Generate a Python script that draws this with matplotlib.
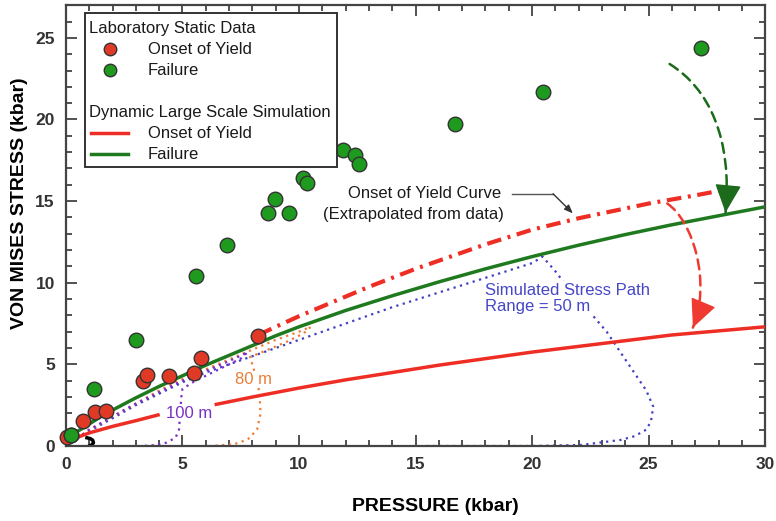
import numpy as np
import matplotlib.pyplot as plt
from matplotlib.patches import Rectangle, FancyArrowPatch
from matplotlib.path import Path
from matplotlib.lines import Line2D

plt.rcParams['font.family'] = ['Liberation Sans', 'DejaVu Sans']

# laboratory static data (kbar)
yield_p = [0.05, 0.2, 0.75, 1.23, 1.72, 3.32, 3.47, 4.43, 5.48, 5.8, 8.25]
yield_s = [0.55, 0.65, 1.5, 2.1, 2.15, 3.95, 4.35, 4.3, 4.47, 5.4, 6.75]
fail_p = [0.2, 1.2, 3.0, 5.57, 6.9, 8.67, 8.97, 9.57, 10.17, 10.35, 11.9, 12.4, 12.57, 16.7, 20.47, 27.24]
fail_s = [0.65, 3.5, 6.5, 10.4, 12.3, 14.25, 15.1, 14.25, 16.4, 16.1, 18.15, 17.8, 17.25, 19.7, 21.7, 24.35]

# dynamic large scale simulation
sim_fail_p = [0.2, 0.5, 1, 1.5, 2, 3, 4, 5, 6, 7, 8, 9, 10, 12, 14, 16, 18, 20, 22, 24, 26, 28, 30]
sim_fail_s = [0.6, 0.9, 1.35, 1.8, 2.2, 2.95, 3.65, 4.3, 4.95, 5.55, 6.15, 6.75, 7.3, 8.3, 9.2, 10.05,
              10.85, 11.6, 12.3, 12.95, 13.55, 14.1, 14.65]
sim_yield_p1 = [0.15, 1, 2, 3, 3.95]
sim_yield_s1 = [0.35, 0.8, 1.2, 1.55, 1.9]
sim_yield_p2 = [6.45, 8, 10, 12, 14, 16, 18, 20, 22, 24, 26, 28, 30]
sim_yield_s2 = [2.55, 3.0, 3.55, 4.05, 4.5, 4.95, 5.35, 5.75, 6.1, 6.45, 6.8, 7.05, 7.3]

# onset of yield curve extrapolated from data
extrap_p = [8.25, 9, 10, 11, 12, 13, 14, 15, 16, 17, 18, 19, 20, 21, 22, 23, 24, 25, 26, 27, 28.1]
extrap_s = [6.8, 7.3, 7.95, 8.55, 9.15, 9.75, 10.3, 10.85, 11.35, 11.85, 12.35, 12.8, 13.25, 13.6, 13.95,
            14.25, 14.55, 14.85, 15.1, 15.35, 15.65]

# simulated stress paths
path100_p = [0, 0.5, 1, 2, 3, 4, 5, 6, 7, 7.6, 7.8, 7.5, 6.5, 5.5, 5.0, 4.95, 4.9, 4.85, 4.7, 4.3, 3.8, 3.3]
path100_s = [0, 0.5, 1.0, 1.8, 2.6, 3.3, 4.0, 4.6, 5.2, 5.6, 5.75, 5.35, 4.65, 3.95, 3.5, 3.0, 2.0, 1.0, 0.5, 0.2, 0.05, 0.0]
path80_p = [0, 1, 2, 3, 4, 5, 6, 7, 8, 9, 10, 10.5, 10.2, 9.5, 8.5, 7.9, 8.1, 8.3, 8.35, 8.2, 7.8, 7.2, 6.2]
path80_s = [0, 1.0, 1.8, 2.6, 3.4, 4.1, 4.7, 5.3, 5.9, 6.5, 7.0, 7.3, 6.9, 6.4, 5.8, 5.45, 4.5, 3.3, 2.0, 1.0, 0.4, 0.1, 0.0]
path50_p = [0, 1, 2, 3, 4, 5, 6, 7, 8, 9, 10, 12, 14, 16, 18, 20, 20.45, 21.0, 21.4, 22.3, 23.2, 24.0,
            24.9, 25.2, 25.1, 24.9, 24.4, 23.8, 22.1, 20, 15.3]
path50_s = [0, 0.9, 1.7, 2.5, 3.2, 3.9, 4.5, 5.0, 5.5, 6.0, 6.5, 7.5, 8.5, 9.4, 10.3, 11.2, 11.6, 10.7, 9.95,
            8.5, 7.0, 5.3, 3.4, 2.4, 1.5, 1.0, 0.6, 0.37, 0.06, 0.0, 0.0]
close_p = [0.9, 1.05, 1.15, 1.18, 1.12, 1.0]
close_s = [0.5, 0.45, 0.35, 0.2, 0.08, 0.0]

# curved arrows: start, two control points, end
green_arrow = [(25.9, 23.4), (27.6, 21.9), (28.6, 18.8), (28.3, 14.3)]
red_arrow = [(25.8, 14.85), (26.9, 13.8), (27.7, 10.0), (26.9, 7.25)]

red = '#ee2e24'
green = '#1f7a1f'
fig = plt.figure(figsize=(7.76, 5.21), dpi=100)
ax = fig.add_axes([0.085, 0.144, 0.901, 0.846])

ax.plot(path50_p, path50_s, color='#4040c0', lw=1.6, ls=(0, (1, 2)), zorder=2)
ax.plot(path80_p, path80_s, color='#ee7d35', lw=1.6, ls=(0, (1, 2)), zorder=2)
ax.plot(path100_p, path100_s, color='#7a30c8', lw=1.6, ls=(0, (1, 2)), zorder=2)
ax.plot(close_p, close_s, color='black', lw=2.5, zorder=2)

ax.plot(sim_yield_p1, sim_yield_s1, color=red, lw=2.5, zorder=3)
ax.plot(sim_yield_p2, sim_yield_s2, color=red, lw=2.5, zorder=3)
ax.plot(sim_fail_p, sim_fail_s, color=green, lw=2.5, zorder=3)
ax.plot(extrap_p, extrap_s, color=red, lw=3, ls=(0, (3.5, 1.6, 0.7, 1.6)), zorder=3)

ax.scatter(yield_p, yield_s, s=110, color='#e03a26', edgecolor='#333333', lw=1, zorder=5, clip_on=False)
ax.scatter(fail_p, fail_s, s=110, color='#1e9a1e', edgecolor='#333333', lw=1, zorder=5, clip_on=False)

for pts, c in [(green_arrow, '#1b6b1b'), (red_arrow, '#ee3a30')]:
    path = Path(pts, [Path.MOVETO, Path.CURVE4, Path.CURVE4, Path.CURVE4])
    ax.add_patch(FancyArrowPatch(path=path, arrowstyle='-', color=c, lw=1.8, ls=(0, (4, 2.5)),
                                 shrinkA=0, shrinkB=0, zorder=4))
    # solid head along the end tangent
    end = np.array(pts[3])
    ctrl = np.array(pts[2])
    base = end - 0.25 * (end - ctrl)
    ax.add_patch(FancyArrowPatch(base, end, arrowstyle='-|>,head_length=0.9,head_width=0.42',
                                 mutation_scale=20, color=c, lw=1, shrinkA=0, shrinkB=0, zorder=4))

# annotation texts
txt = dict(fontsize=12, color='#1a1a1a')
ax.text(15.4, 15.45, 'Onset of Yield Curve', ha='center', va='center', **txt)
ax.text(14.9, 14.2, '(Extrapolated from data)', ha='center', va='center', **txt)
ax.plot([19.15, 20.9], [15.45, 15.45], color='#555555', lw=1)
ax.annotate('', xy=(21.75, 14.25), xytext=(20.9, 15.45),
            arrowprops=dict(arrowstyle='-|>,head_length=0.5,head_width=0.2', color='#333333', lw=1,
                            shrinkA=0, shrinkB=0))
ax.text(18.0, 9.05, 'Simulated Stress Path\nRange = 50 m', ha='left', va='center', fontsize=12,
        color='#4646c8', linespacing=1.1, zorder=4,
        bbox=dict(facecolor='white', edgecolor='none', pad=1))
ax.text(8.05, 4.1, '80 m', ha='center', va='center', fontsize=12, color='#e8803a', zorder=4,
        bbox=dict(facecolor='white', edgecolor='none', pad=0.5))
ax.text(5.3, 2.0, '100 m', ha='center', va='center', fontsize=12, color='#7a30c8', zorder=4,
        bbox=dict(facecolor='white', edgecolor='none', pad=0.5))

# axes
ax.set_xlim(0, 30)
ax.set_ylim(0, 27)
ax.set_xticks(np.arange(0, 31, 5))
ax.set_yticks(np.arange(0, 26, 5))
ax.set_xticks(np.arange(0, 31, 1), minor=True)
ax.set_yticks(np.arange(0, 28, 1), minor=True)
ax.tick_params(which='both', direction='in', top=True, right=True, colors='#333333', width=1.2)
ax.tick_params(which='major', length=8, labelsize=12.5, pad=8)
ax.tick_params(which='minor', length=4)
for lab in ax.get_xticklabels() + ax.get_yticklabels():
    lab.set_fontweight('bold')
for sp in ax.spines.values():
    sp.set_linewidth(1.6)
    sp.set_color('#444444')
ax.set_xlabel('PRESSURE (kbar)', fontsize=14, fontweight='bold', va='center')
ax.xaxis.set_label_coords(0.529, -0.138)
ax.set_ylabel('VON MISES STRESS (kbar)', fontsize=14, fontweight='bold', va='center')
ax.yaxis.set_label_coords(-0.066, 0.55)


def px(x, y):
    return (x - 66) / 699, (446 - y) / 441


# legend box
lx0, ly0 = px(85, 167)
lx1, ly1 = px(337, 13)
ax.add_patch(Rectangle((lx0, ly0), lx1 - lx0, ly1 - ly0, transform=ax.transAxes, facecolor='white',
                       edgecolor='#333333', lw=1.4, zorder=6))
lt = dict(transform=ax.transAxes, fontsize=12, va='center', color='#1a1a1a', zorder=7)
ax.text(*px(89, 28), 'Laboratory Static Data', ha='left', **lt)
ax.text(*px(148, 49), 'Onset of Yield', ha='left', **lt)
ax.text(*px(148, 70), 'Failure', ha='left', **lt)
ax.text(*px(89, 112), 'Dynamic Large Scale Simulation', ha='left', **lt)
ax.text(*px(148, 133), 'Onset of Yield', ha='left', **lt)
ax.text(*px(148, 154), 'Failure', ha='left', **lt)
for yy, c in [(49, '#e03a26'), (70, '#1e9a1e')]:
    mx, my = px(110, yy)
    ax.add_line(Line2D([mx], [my], marker='o', ms=9, mfc=c, mec='#333333', mew=1,
                       transform=ax.transAxes, zorder=7))
for yy, c in [(133, red), (154, green)]:
    a, b = px(91, yy)
    c2, _ = px(128, yy)
    ax.add_line(Line2D([a, c2], [b, b], color=c, lw=2.5, transform=ax.transAxes, zorder=7))

fig.savefig('out.png', dpi=100)
